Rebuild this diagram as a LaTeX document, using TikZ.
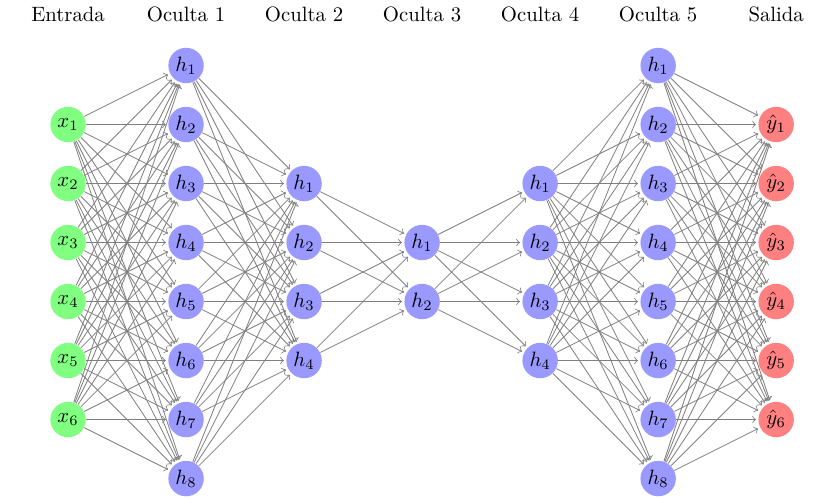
\documentclass[tikz,border=0pt]{standalone}
\begin{document}
\begin{tikzpicture}[
  neuron/.style={circle, minimum size=0.6cm, inner sep=0pt},
  inp/.style={neuron, fill=green!50},
  hid/.style={neuron, fill=blue!40},
  outp/.style={neuron, fill=red!50},
  conn/.style={->, draw=gray, shorten >=1pt},
  title/.style={anchor=center}
]
\useasboundingbox (-1.153,-3.83) rectangle (12.98,4.61);

% layers
\foreach \i in {1,...,6}
  \node[inp] (x\i) at (0,3.5-\i) {$x_{\i}$};
\foreach \i in {1,...,8}
  \node[hid] (a\i) at (2,4.5-\i) {$h_{\i}$};
\foreach \i in {1,...,4}
  \node[hid] (b\i) at (4,2.5-\i) {$h_{\i}$};
\foreach \i in {1,2}
  \node[hid] (c\i) at (6,1.5-\i) {$h_{\i}$};
\foreach \i in {1,...,4}
  \node[hid] (d\i) at (8,2.5-\i) {$h_{\i}$};
\foreach \i in {1,...,8}
  \node[hid] (e\i) at (10,4.5-\i) {$h_{\i}$};
\foreach \i in {1,...,6}
  \node[outp] (y\i) at (12,3.5-\i) {$\hat{y}_{\i}$};

% connections
\foreach \i in {1,...,6}
  \foreach \j in {1,...,8}
    \draw[conn] (x\i) -- (a\j);
\foreach \i in {1,...,8}
  \foreach \j in {1,...,4}
    \draw[conn] (a\i) -- (b\j);
\foreach \i in {1,...,4}
  \foreach \j in {1,2}
    \draw[conn] (b\i) -- (c\j);
\foreach \i in {1,2}
  \foreach \j in {1,...,4}
    \draw[conn] (c\i) -- (d\j);
\foreach \i in {1,...,4}
  \foreach \j in {1,...,8}
    \draw[conn] (d\i) -- (e\j);
\foreach \i in {1,...,8}
  \foreach \j in {1,...,6}
    \draw[conn] (e\i) -- (y\j);

% titles
\node[title] (tin) at (0,4.36) {Entrada};
\node[title] (t1) at (2,4.36) {Oculta 1};
\node[title] (t2) at (4,4.36) {Oculta 2};
\node[title] (t3) at (6,4.36) {Oculta 3};
\node[title] (t4) at (8,4.36) {Oculta 4};
\node[title] (t5) at (10,4.36) {Oculta 5};
\node[title] (tout) at (12,4.36) {Salida};

\end{tikzpicture}
\end{document}
